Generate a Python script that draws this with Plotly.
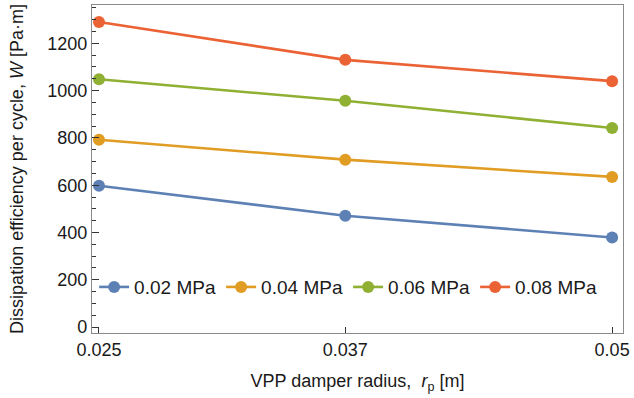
import plotly.graph_objects as go

# Damper radius values (m) and tick labels
radius = [0.025, 0.037, 0.05]
radius_labels = ["0.025", "0.037", "0.05"]

# Dissipation per cycle W [Pa·m] for each pressure level
w_002 = [598, 471, 379]
w_004 = [792, 708, 635]
w_006 = [1048, 957, 842]
w_008 = [1290, 1130, 1040]

series_names = ["0.02 MPa", "0.04 MPa", "0.06 MPa", "0.08 MPa"]
series_values = [w_002, w_004, w_006, w_008]
colors = ["#5E81B5", "#E19C24", "#8FB032", "#EB6235"]

y_ticks = [0, 200, 400, 600, 800, 1000, 1200]

fig = go.Figure()
for name, vals, c in zip(series_names, series_values, colors):
    fig.add_trace(go.Scatter(
        x=radius, y=vals, name=name, mode="lines+markers",
        line=dict(color=c, width=2.6),
        marker=dict(color=c, size=12),
    ))

axis_color = "#8a8a8a"
font_family = "Liberation Sans, Arial, sans-serif"

fig.update_layout(
    width=634, height=398,
    margin=dict(l=92, r=8, t=4, b=65),
    paper_bgcolor="white", plot_bgcolor="white",
    font=dict(family=font_family, size=18, color="#1a1a1a"),
    showlegend=True,
    legend=dict(
        orientation="h", x=0.004, y=0.14, xanchor="left", yanchor="middle",
        bgcolor="rgba(0,0,0,0)", font=dict(size=19, color="#1a1a1a"),
        itemwidth=30, tracegroupgap=0, entrywidth=82,
    ),
    xaxis=dict(
        range=[0.02466, 0.05053],
        tickvals=radius, ticktext=radius_labels,
        ticks="inside", ticklen=6, tickwidth=1, tickcolor="#333",
        showline=True, linecolor=axis_color, linewidth=1.2, mirror=True,
        showgrid=False, zeroline=False,
        tickfont=dict(size=18),
        title=dict(text="VPP damper radius,  <i>r</i><sub>p</sub> [m]",
                   font=dict(size=18), standoff=15),
    ),
    yaxis=dict(
        range=[-25, 1362],
        tickvals=y_ticks,
        ticks="inside", ticklen=7, tickwidth=1, tickcolor="#333",
        minor=dict(dtick=50, tick0=0, ticks="inside", ticklen=4,
                   tickcolor="#333", tickwidth=1, showgrid=False),
        showline=True, linecolor=axis_color, linewidth=1.2, mirror=True,
        showgrid=False, zeroline=False,
        tickfont=dict(size=18),
        title=dict(text="Dissipation efficiency per cycle, <i>W</i> [Pa·m]",
                   font=dict(size=18), standoff=18),
    ),
)

fig.write_html("out.html")
